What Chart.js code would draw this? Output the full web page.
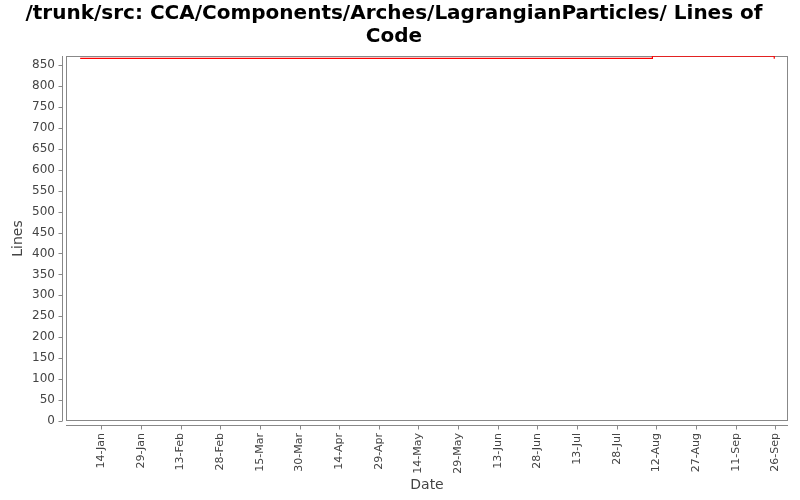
<!DOCTYPE html>
<html>
<head>
<meta charset="utf-8">
<script src="https://cdn.jsdelivr.net/npm/chart.js@4/dist/chart.umd.min.js"></script>
<style>
  html, body { margin: 0; padding: 0; background: #fff; }
  #wrap { width: 800px; height: 500px; }
</style>
</head>
<body>
<div id="wrap"><canvas id="locChart"></canvas></div>
<script>
// data: x = day of year, y = lines of code
const pointDays = [6, 222.5, 268.6];
const pointLines = [866, 871, 865];

const tickDays = [14, 29, 44, 59, 74, 89, 104, 119, 134, 149, 164, 179, 194, 209, 224, 239, 254, 269];
const tickLabels = ["14-Jan", "29-Jan", "13-Feb", "28-Feb", "15-Mar", "30-Mar", "14-Apr", "29-Apr", "14-May",
  "29-May", "13-Jun", "28-Jun", "13-Jul", "28-Jul", "12-Aug", "27-Aug", "11-Sep", "26-Sep"];
const yTicks = [0, 50, 100, 150, 200, 250, 300, 350, 400, 450, 500, 550, 600, 650, 700, 750, 800, 850];

const AXIS_GREY = "#888888";

// plot border + axis lines set apart from the plot, like the original
const framePlugin = {
  id: "frame",
  beforeDatasetsDraw(chart) {
    const { ctx, chartArea: a, scales } = chart;
    ctx.save();
    ctx.strokeStyle = AXIS_GREY;
    ctx.lineWidth = 1;
    ctx.strokeRect(a.left + 0.5, a.top + 0.5, a.right - a.left - 1, a.bottom - a.top - 1);

    // y axis
    const yx = a.left - 4 + 0.5;
    ctx.beginPath();
    ctx.moveTo(yx, a.top);
    ctx.lineTo(yx, a.bottom);
    scales.y.ticks.forEach(t => {
      const py = Math.round(scales.y.getPixelForValue(t.value)) + 0.5;
      ctx.moveTo(yx, py);
      ctx.lineTo(yx - 4, py);
    });
    // x axis
    const xy = a.bottom + 4 + 0.5;
    ctx.moveTo(a.left, xy);
    ctx.lineTo(a.right, xy);
    scales.x.ticks.forEach(t => {
      const px = Math.round(scales.x.getPixelForValue(t.value)) + 0.5;
      ctx.moveTo(px, xy);
      ctx.lineTo(px, xy + 4);
    });
    ctx.stroke();
    ctx.restore();
  }
};

const ctx = document.getElementById("locChart").getContext("2d");
new Chart(ctx, {
  type: "line",
  data: {
    datasets: [
      {
        label: "Lines",
        data: pointDays.map((d, i) => ({ x: d, y: pointLines[i] })),
        borderColor: "#ff0000",
        borderWidth: 1.2,
        pointRadius: 0,
        stepped: true,
        fill: false,
      },
    ],
  },
  options: {
    responsive: true,
    maintainAspectRatio: false,
    animation: false,
    layout: { padding: { left: 0, right: 12, top: 0, bottom: 0 } },
    plugins: {
      legend: { display: false },
      tooltip: { enabled: false },
      title: {
        display: true,
        text: ["/trunk/src: CCA/Components/Arches/LagrangianParticles/ Lines of", "Code"],
        color: "#000",
        font: { family: "DejaVu Sans", size: 20, weight: "bold", lineHeight: 1.15 },
        padding: { top: 2, bottom: 8 },
      },
    },
    scales: {
      x: {
        type: "linear",
        min: 0.64,
        max: 273.8,
        grid: { display: false, tickLength: 8 },
        border: { display: false },
        afterBuildTicks: s => { s.ticks = tickDays.map(v => ({ value: v })); },
        afterFit: s => { s.height = 79; },
        ticks: {
          autoSkip: false,
          minRotation: 90,
          maxRotation: 90,
          padding: 4,
          color: "#444",
          font: { family: "DejaVu Sans", size: 11 },
          callback: (v) => tickLabels[tickDays.indexOf(v)],
        },
        title: {
          display: true,
          text: "Date",
          color: "#444",
          font: { family: "DejaVu Sans", size: 14 },
          padding: { top: 0, bottom: 6 },
        },
      },
      y: {
        min: 0,
        max: 871.5,
        grid: { display: false, tickLength: 8 },
        border: { display: false },
        afterBuildTicks: s => { s.ticks = yTicks.map(v => ({ value: v })); },
        afterFit: s => { s.width = 66; },
        ticks: {
          padding: 3,
          color: "#444",
          font: { family: "DejaVu Sans", size: 12 },
        },
        title: {
          display: true,
          text: "Lines",
          color: "#444",
          font: { family: "DejaVu Sans", size: 14 },
          padding: { top: 10, bottom: 0 },
        },
      },
    },
  },
  plugins: [framePlugin],
});
</script>
</body>
</html>
